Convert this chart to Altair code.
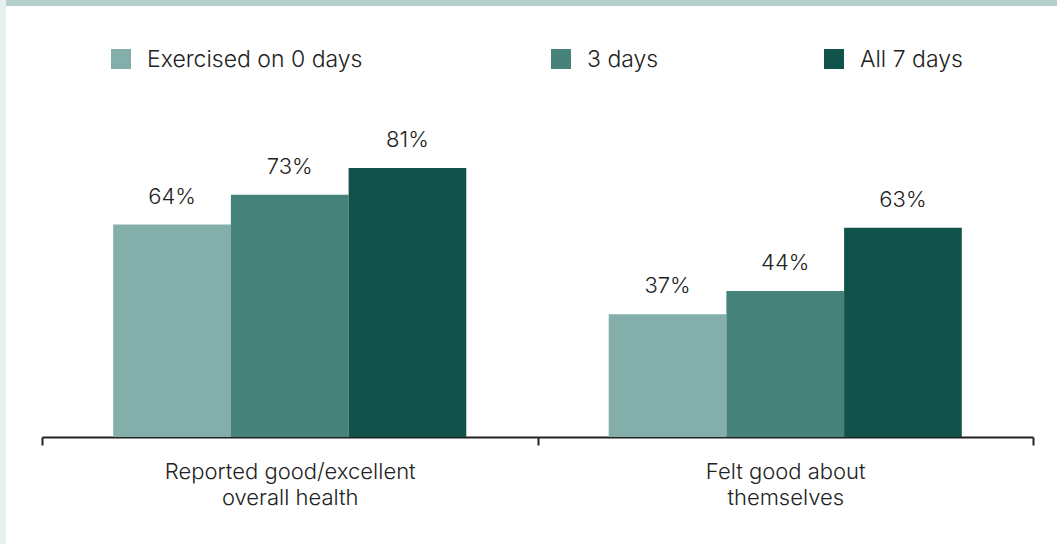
import altair as alt
import pandas as pd

# Survey categories (shown on two lines under the axis)
categories = [
    "Reported good/excellent\noverall health",
    "Felt good about\nthemselves",
]
series = ["Exercised on 0 days", "3 days", "All 7 days"]
colors = ["#84aea9", "#44827a", "#11524a"]

# Percent of respondents, one list per series
values_0_days = [64, 37]
values_3_days = [73, 44]
values_7_days = [81, 63]

# Legend layout (left edge of each swatch, relative to the plot origin)
legend_x = [69, 509, 782]

FONT = "Inter"
WEIGHT = 300
SIZE = 22
LEGEND_SIZE = 23
INK = "#222222"

rows = []
for s, vals in zip(series, [values_0_days, values_3_days, values_7_days]):
    for c, v in zip(categories, vals):
        rows.append({"category": c, "series": s, "value": v, "label": f"{v}%"})
df = pd.DataFrame(rows)

W, H = 991, 332

base = alt.Chart(df).encode(
    x=alt.X(
        "category:N",
        sort=categories,
        scale=alt.Scale(paddingInner=0, paddingOuter=0),
        axis=alt.Axis(
            title=None,
            labelAngle=0,
            labelExpr="split(datum.label, '\\n')",
            labelFont=FONT,
            labelFontWeight=WEIGHT,
            labelFontSize=SIZE,
            labelColor=INK,
            labelLineHeight=26,
            labelPadding=16,
            labelLimit=400,
            domainColor=INK,
            domainWidth=2,
            tickColor=INK,
            tickWidth=2,
            tickSize=8,
            tickBand="extent",
        ),
    ),
    xOffset=alt.XOffset(
        "series:N", sort=series, scale=alt.Scale(paddingInner=0, paddingOuter=0.605)
    ),
    y=alt.Y("value:Q", scale=alt.Scale(domain=[0, 100]), axis=None),
)

bars = base.mark_bar().encode(
    color=alt.Color("series:N", sort=series,
                    scale=alt.Scale(domain=series, range=colors), legend=None)
)

labels = base.mark_text(
    baseline="alphabetic", dy=-21, font=FONT, fontWeight=WEIGHT, fontSize=SIZE, color=INK
).encode(text="label:N")

# Decorative page frame: top band and left strip
one = alt.Data(values=[{}])
top_band = alt.Chart(one).mark_rect(color="#b3cfcc").encode(
    x=alt.value(-36), x2=alt.value(W + 24), y=alt.value(-105), y2=alt.value(-99)
)
left_strip = alt.Chart(one).mark_rect(color="#e8f0ef").encode(
    x=alt.value(-42), x2=alt.value(-36), y=alt.value(-105), y2=alt.value(H + 107)
)

# Hand-placed legend row
legend_layers = []
for name, col, lx in zip(series, colors, legend_x):
    legend_layers.append(
        alt.Chart(one).mark_rect(color=col).encode(
            x=alt.value(lx), x2=alt.value(lx + 20), y=alt.value(-56), y2=alt.value(-36)
        )
    )
    legend_layers.append(
        alt.Chart(one).mark_text(
            text=name, align="left", baseline="alphabetic",
            font=FONT, fontWeight=WEIGHT, fontSize=LEGEND_SIZE, color=INK
        ).encode(x=alt.value(lx + 36), y=alt.value(-38))
    )

chart = alt.layer(
    top_band, left_strip, bars, labels, *legend_layers
).properties(
    width=W,
    height=H,
    padding={"left": 42, "top": 105, "right": 24, "bottom": 107},
    autosize=alt.AutoSizeParams(type="none"),
    background="white",
).configure_view(stroke=None)

chart.save("out.html", embed_options={"renderer": "svg", "actions": False})
